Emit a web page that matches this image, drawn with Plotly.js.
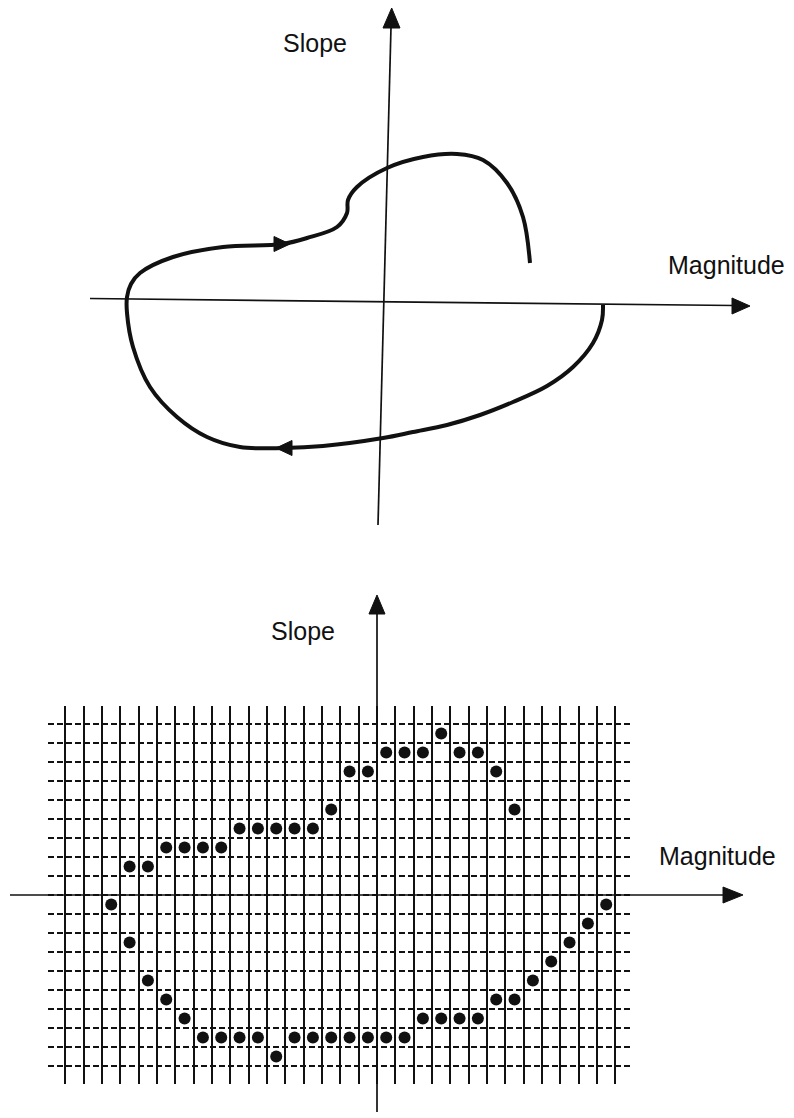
<!DOCTYPE html>
<html>
<head>
<meta charset="utf-8">
<script src="https://cdn.plot.ly/plotly-3.0.1.min.js"></script>
<style>
  html, body { margin: 0; padding: 0; background: #fff; }
  #chart { width: 794px; height: 1118px; }
</style>
</head>
<body>
<div id="chart"></div>
<script>
// ---------- DATA ----------
// Top diagram: continuous trajectory in the (Magnitude, Slope) phase plane
const curveMagnitude = [21.9, 21.8, 20.9, 18.9, 16.3, 12.9, 9.6, 6.3, 2.9, -0.1, -6.1, -10.0, -14.4,
  -17.7, -20.7, -23.4, -25.1, -25.7, -25.7, -25.3, -24.4, -21.1, -16.1, -10.2, -7.7, -4.7, -3.7, -3.6,
  -2.7, 0.3, 3.9, 7.3, 9.9, 12.3, 13.9, 14.6];
const curveSlope = [-0.4, -1.9, -4.2, -6.6, -8.5, -10.1, -11.4, -12.4, -13.1, -13.7, -14.5, -14.7, -14.6,
  -13.6, -11.6, -8.6, -4.6, -1.2, 0.4, 1.7, 2.8, 4.4, 5.4, 5.7, 6.3, 7.4, 8.8, 10.1,
  11.4, 13.3, 14.4, 14.7, 14.1, 11.8, 8.4, 3.8];
const arrowIndexBottom = 11;   // direction marker pointing left
const arrowIndexTop = 23;      // direction marker pointing right

// Bottom diagram: quantised trajectory (cell centres on the grid)
const dotMagnitude = [-14.5, -13.5, -12.5, -11.5, -10.5, -9.5, -8.5, -7.5, -6.5, -5.5, -4.5, -3.5,
  -2.5, -1.5, -0.5, 0.5, 1.5, 2.5, 3.5, 4.5, 5.5, 6.5, 7.5,
  -13.5, -12.5, -11.5, -10.5, -9.5, -8.5, -7.5, -6.5, -5.5, -4.5, -3.5, -2.5, -1.5, -0.5, 0.5, 1.5,
  2.5, 3.5, 4.5, 5.5, 6.5, 7.5, 8.5, 9.5, 10.5, 11.5, 12.5];
const dotSlope = [-0.5, 1.5, 1.5, 2.5, 2.5, 2.5, 2.5, 3.5, 3.5, 3.5, 3.5, 3.5,
  4.5, 6.5, 6.5, 7.5, 7.5, 7.5, 8.5, 7.5, 7.5, 6.5, 4.5,
  -2.5, -4.5, -5.5, -6.5, -7.5, -7.5, -7.5, -7.5, -8.5, -7.5, -7.5, -7.5, -7.5, -7.5, -7.5, -7.5,
  -6.5, -6.5, -6.5, -6.5, -5.5, -5.5, -4.5, -3.5, -2.5, -1.5, -0.5];

const axisNames = ['Magnitude', 'Slope'];

// ---------- helpers ----------
const W = 794, H = 1118;
const INK = '#111';
const FONT = { family: 'Liberation Sans, Arial, Helvetica, sans-serif', size: 25, color: INK };
// top panel: data units from pixel position (10 px per unit, origin at axes crossing)
const T = (px, py) => [(px - 384) / 10, (301 - py) / 10];
// paper coordinates from pixel position
const P = (px, py) => [px / W, 1 - py / H];
const path = (pts) => 'M' + pts.map(p => p[0].toFixed(4) + ',' + p[1].toFixed(4)).join(' L') + ' Z';

// ---------- traces ----------
const traces = [
  {
    x: curveMagnitude, y: curveSlope, xaxis: 'x', yaxis: 'y',
    mode: 'lines', line: { color: INK, width: 4, shape: 'spline', smoothing: 1 },
    hoverinfo: 'skip', showlegend: false
  },
  {
    x: dotMagnitude, y: dotSlope, xaxis: 'x2', yaxis: 'y2',
    mode: 'markers', marker: { color: INK, size: 12 },
    cliponaxis: false, hoverinfo: 'skip', showlegend: false
  }
];

// ---------- shapes ----------
const bx = curveMagnitude[arrowIndexBottom], by = curveSlope[arrowIndexBottom];
const tx = curveMagnitude[arrowIndexTop], ty = curveSlope[arrowIndexTop];

const shapes = [
  // top panel axes
  { type: 'line', xref: 'x', yref: 'y', x0: T(90, 298.5)[0], y0: T(90, 298.5)[1], x1: T(734, 305.5)[0], y1: T(734, 305.5)[1], line: { color: INK, width: 1.7 } },
  { type: 'path', xref: 'x', yref: 'y', path: path([T(750, 306), T(732, 298), T(732, 314)]), fillcolor: INK, line: { color: INK, width: 1 } },
  { type: 'line', xref: 'x', yref: 'y', x0: T(378, 525)[0], y0: T(378, 525)[1], x1: T(391, 27)[0], y1: T(391, 27)[1], line: { color: INK, width: 1.7 } },
  { type: 'path', xref: 'x', yref: 'y', path: path([T(391.7, 8), T(383, 28), T(400, 28)]), fillcolor: INK, line: { color: INK, width: 1 } },
  // direction arrowheads on the curve
  { type: 'path', xref: 'x', yref: 'y', path: path([[bx - 0.8, by], [bx + 0.8, by + 0.75], [bx + 0.8, by - 0.75]]), fillcolor: INK, line: { color: INK, width: 1 } },
  { type: 'path', xref: 'x', yref: 'y', path: path([[tx + 0.8, ty], [tx - 0.8, ty + 0.75], [tx - 0.8, ty - 0.75]]), fillcolor: INK, line: { color: INK, width: 1 } },
  // bottom panel axes
  { type: 'line', xref: 'paper', yref: 'paper', x0: P(10, 895)[0], y0: P(10, 895)[1], x1: P(725, 895)[0], y1: P(725, 895)[1], line: { color: INK, width: 1.7 } },
  { type: 'path', xref: 'paper', yref: 'paper', path: path([P(743, 895), P(723, 887), P(723, 903)]), fillcolor: INK, line: { color: INK, width: 1 } },
  { type: 'line', xref: 'paper', yref: 'paper', x0: P(377, 1112)[0], y0: P(377, 1112)[1], x1: P(377, 612)[0], y1: P(377, 612)[1], line: { color: INK, width: 1.7 } },
  { type: 'path', xref: 'paper', yref: 'paper', path: path([P(377, 595), P(369, 614), P(385, 614)]), fillcolor: INK, line: { color: INK, width: 1 } }
];

// ---------- annotations ----------
const annotations = [
  { xref: 'x', yref: 'y', x: T(315, 43)[0], y: T(315, 43)[1], text: axisNames[1], showarrow: false, font: FONT, xanchor: 'center', yanchor: 'middle' },
  { xref: 'x', yref: 'y', x: T(726, 265)[0], y: T(726, 265)[1], text: axisNames[0], showarrow: false, font: FONT, xanchor: 'center', yanchor: 'middle' },
  { xref: 'paper', yref: 'paper', x: P(303, 631)[0], y: P(303, 631)[1], text: axisNames[1], showarrow: false, font: FONT, xanchor: 'center', yanchor: 'middle' },
  { xref: 'paper', yref: 'paper', x: P(717, 856)[0], y: P(717, 856)[1], text: axisNames[0], showarrow: false, font: FONT, xanchor: 'center', yanchor: 'middle' }
];

// ---------- layout ----------
const layout = {
  width: W, height: H,
  margin: { l: 0, r: 0, t: 0, b: 0, pad: 0 },
  paper_bgcolor: '#fff', plot_bgcolor: 'rgba(0,0,0,0)',
  showlegend: false,
  font: FONT,
  xaxis: { domain: [0, 1], range: [-38.4, 41.0], visible: false, fixedrange: true },
  yaxis: { domain: [1 - 560 / H, 1], range: [-25.9, 30.1], visible: false, fixedrange: true },
  xaxis2: {
    domain: [48 / W, 632.8 / W], range: [-17.95, 13.95], anchor: 'y2',
    tick0: 0, dtick: 1, showgrid: true, gridcolor: INK, gridwidth: 2,
    showticklabels: false, ticks: '', zeroline: false, showline: false, fixedrange: true
  },
  yaxis2: {
    domain: [1 - 1084 / H, 1 - 706 / H], range: [-9.947, 9.947], anchor: 'x2',
    tick0: 0, dtick: 1, showgrid: true, gridcolor: INK, gridwidth: 2, griddash: '6px,3px',
    showticklabels: false, ticks: '', zeroline: false, showline: false, fixedrange: true
  },
  shapes: shapes,
  annotations: annotations
};

Plotly.newPlot('chart', traces, layout, { staticPlot: true, displayModeBar: false });
</script>
</body>
</html>
